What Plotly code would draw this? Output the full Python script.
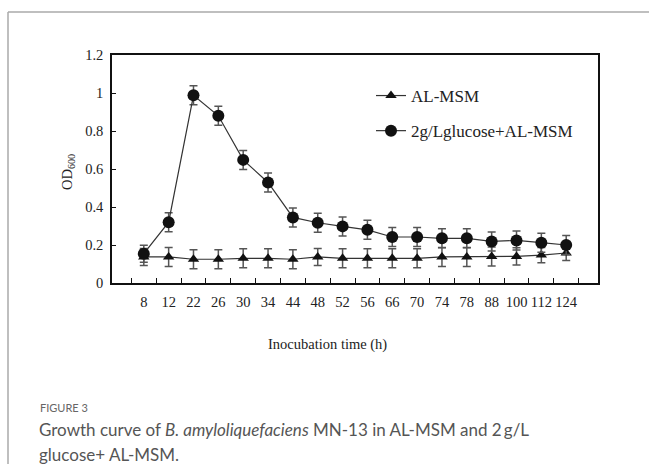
import plotly.graph_objects as go

times = ["8", "12", "22", "26", "30", "34", "44", "48", "52", "56", "66", "70", "74", "78", "88", "100", "112", "124"]
al_msm = [0.137, 0.137, 0.125, 0.125, 0.13, 0.13, 0.125, 0.137, 0.13, 0.13, 0.13, 0.13, 0.137, 0.137, 0.14, 0.14, 0.147, 0.158]
al_msm_err = [0.045, 0.05, 0.05, 0.05, 0.05, 0.05, 0.05, 0.045, 0.05, 0.05, 0.05, 0.05, 0.05, 0.05, 0.05, 0.045, 0.04, 0.04]
glucose = [0.154, 0.32, 0.988, 0.88, 0.648, 0.529, 0.345, 0.317, 0.298, 0.28, 0.242, 0.242, 0.235, 0.235, 0.219, 0.224, 0.212, 0.2]
glucose_err = [0.045, 0.05, 0.05, 0.05, 0.05, 0.05, 0.05, 0.05, 0.05, 0.05, 0.05, 0.05, 0.05, 0.05, 0.05, 0.05, 0.05, 0.05]

serif = "Liberation Serif"
fig = go.Figure()
fig.add_trace(go.Scatter(
    x=times, y=al_msm, name="AL-MSM", mode="lines+markers", legendgroup="a",
    line=dict(color="#333333", width=1.2),
    marker=dict(symbol="triangle-up", size=10, color="#111111"),
    error_y=dict(type="data", array=al_msm_err, color="#555555", thickness=1.5, width=4),
))
fig.add_trace(go.Scatter(
    x=times, y=glucose, name="2g/Lglucose+AL-MSM", mode="lines+markers", legendgroup="b",
    line=dict(color="#333333", width=1.2),
    marker=dict(symbol="circle", size=12, color="#111111"),
    error_y=dict(type="data", array=glucose_err, color="#555555", thickness=1.5, width=4),
))

def px(x):
    return (x - 112) / 486

def py(y):
    return (283 - y) / 228

fig.update_layout(
    width=649, height=464,
    margin=dict(l=112, r=51, t=55, b=181, autoexpand=False),
    paper_bgcolor="white", plot_bgcolor="white",
    showlegend=True,
    legend=dict(x=px(371), y=py(78), xanchor="left", yanchor="top",
                font=dict(family=serif, size=17, color="#222"),
                bgcolor="rgba(0,0,0,0)", tracegroupgap=10, itemwidth=30),
    xaxis=dict(type="category", showline=True, linecolor="#111", linewidth=1.5, mirror=True,
               ticks="inside", tickson="boundaries", ticklen=5, tickcolor="#111",
               showgrid=False, tickangle=0, tickfont=dict(family=serif, size=14.5, color="#222"),
               ticklabelstandoff=5),
    yaxis=dict(range=[0, 1.2], dtick=0.2, showline=True, linecolor="#111", linewidth=1.5, mirror=True,
               showgrid=False, zeroline=False, ticks="inside", ticklen=4, tickcolor="#111",
               tickfont=dict(family=serif, size=14.5, color="#222"), ticklabelstandoff=4),
    shapes=[
        dict(type="line", xref="paper", yref="paper", x0=px(8), x1=px(8), y0=py(12), y1=py(470),
             line=dict(color="#aaaaaa", width=1.5)),
        dict(type="line", xref="paper", yref="paper", x0=px(8), x1=px(660), y0=py(12), y1=py(12),
             line=dict(color="#aaaaaa", width=1.5)),
    ],
    annotations=[
        dict(text="OD<sub>600</sub>", xref="paper", yref="paper", x=px(68), y=py(172),
             xanchor="center", yanchor="middle",
             textangle=-90, showarrow=False, font=dict(family=serif, size=14.5, color="#222")),
        dict(text="Inocubation time (h)", xref="paper", yref="paper", x=px(327), y=py(344),
             xanchor="center", yanchor="middle",
             showarrow=False, font=dict(family=serif, size=14.5, color="#222")),
        dict(text="FIGURE 3", xref="paper", yref="paper", x=px(38), y=py(407), xanchor="left",
             yanchor="middle",
             showarrow=False, font=dict(family="Lato", size=11, color="#666")),
        dict(text="Growth curve of <i>B. amyloliquefaciens</i> MN-13 in AL-MSM and 2\u2009g/L",
             xref="paper", yref="paper", x=px(37), y=py(429), xanchor="left", yanchor="middle",
             showarrow=False, font=dict(family="Lato", size=17, color="#555")),
        dict(text="glucose+ AL-MSM.",
             xref="paper", yref="paper", x=px(37), y=py(454), xanchor="left", yanchor="middle",
             showarrow=False, font=dict(family="Lato", size=17, color="#555")),
    ],
)

fig.write_html("out.html", config={"displayModeBar": False},
               post_script="document.body.style.margin='0';")
